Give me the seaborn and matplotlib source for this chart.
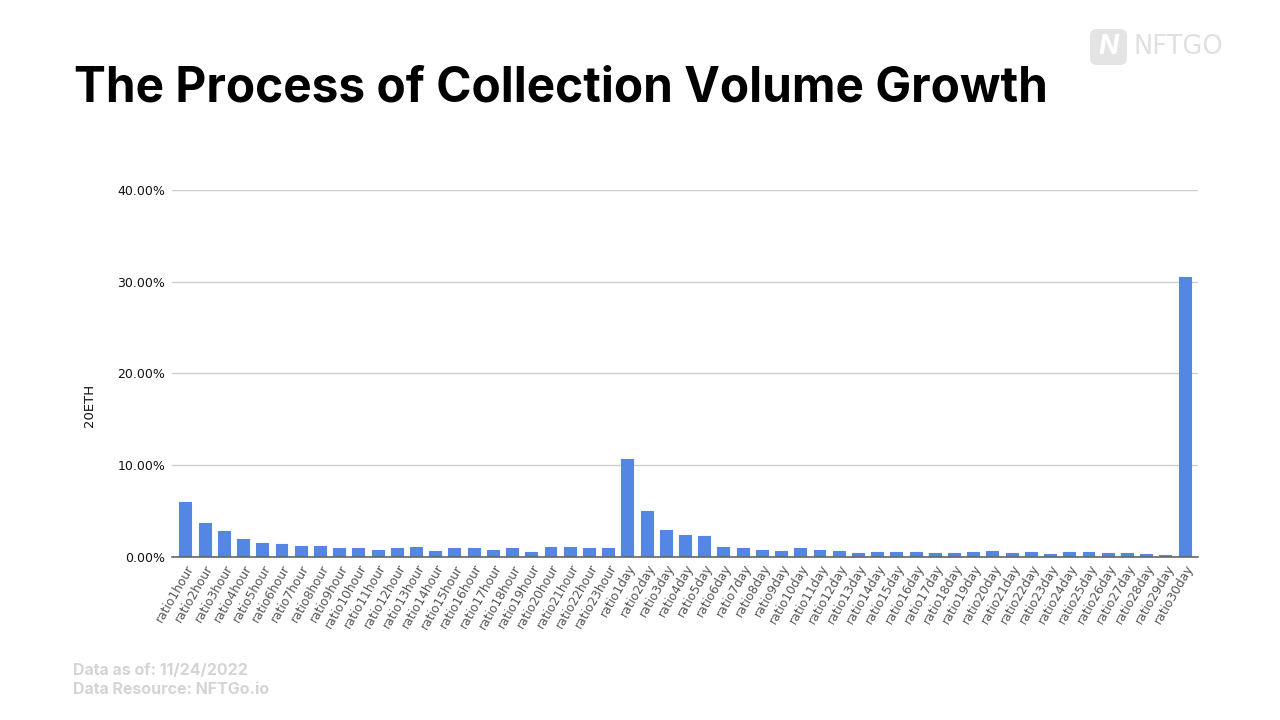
import matplotlib
matplotlib.use('Agg')
import matplotlib.pyplot as plt
from matplotlib.patches import FancyBboxPatch
from matplotlib.ticker import FuncFormatter
from matplotlib.transforms import IdentityTransform
import pandas as pd
import seaborn as sns

# --- Data ---
labels_hour = ['ratio%dhour' % i for i in range(1, 24)]
labels_day = ['ratio%dday' % i for i in range(1, 31)]
values_hour = [6.0, 3.7, 2.8, 1.9, 1.5, 1.4, 1.1, 1.2, 0.9, 0.9, 0.75, 0.9,
               1.0, 0.6, 0.9, 0.9, 0.75, 0.9, 0.5, 1.0, 1.0, 0.9, 0.9]
values_day = [10.6, 5.0, 2.9, 2.4, 2.2, 1.0, 0.9, 0.75, 0.6, 0.9, 0.75, 0.6,
              0.35, 0.45, 0.45, 0.45, 0.35, 0.35, 0.45, 0.6, 0.35, 0.45, 0.25,
              0.45, 0.45, 0.35, 0.35, 0.25, 0.15, 30.5]
y_ticks = [0, 10, 20, 30, 40]

df = pd.DataFrame({'ratio': labels_hour + labels_day, 'volume': values_hour + values_day})

sns.set_theme(style='white')
plt.rcParams['font.family'] = ['DejaVu Sans']

fig = plt.figure(figsize=(12.8, 7.2), dpi=100, facecolor='white')
ax = fig.add_axes([172 / 1280, 1 - 556.5 / 720, (1198 - 172) / 1280, (556.5 - 190) / 720])

# --- Bars ---
sns.barplot(data=df, x='ratio', y='volume', color='#5486e3', saturation=1, width=0.62, ax=ax)
for bar in ax.patches:
    bar.set_edgecolor('#5486e3')
    bar.set_linewidth(0.8)
    bar.set_joinstyle('round')

# --- Axes ---
ax.set_xlim(-0.7, 52.7)
ax.set_ylim(0, 40)
ax.set_yticks(y_ticks)
ax.yaxis.set_major_formatter(FuncFormatter(lambda v, _: '%.2f%%' % v))
ax.grid(axis='y', color='#cccccc', linewidth=1)
ax.set_axisbelow(True)
sns.despine(ax=ax, left=True)
ax.spines['bottom'].set_color('#666666')
ax.spines['bottom'].set_linewidth(1.2)
ax.tick_params(axis='y', length=0, pad=5, labelsize=9, labelcolor='#111111')
ax.tick_params(axis='x', length=0, pad=4, labelsize=8.8, labelcolor='#555555')
plt.setp(ax.get_xticklabels(), rotation=60, ha='right', rotation_mode='anchor')
ax.set_xlabel('')
ax.set_ylabel('')

fig.text(90 / 1280, 1 - 405 / 720, '20ETH', rotation=90, ha='center', va='center',
         fontsize=9.5, color='#111111')

# --- Title, footer, logo ---
fig.text(74 / 1280, 1 - 101.5 / 720, 'The Process of Collection Volume Growth', family='Inter',
         fontweight='bold', fontsize=34.4, color='black', va='baseline')
fig.text(73 / 1280, 1 - 670.5 / 720, 'Data as of: 11/24/2022', family='Inter', fontweight='bold',
         fontsize=11.5, color='#d4d4d4', va='center')
fig.text(73 / 1280, 1 - 690 / 720, 'Data Resource: NFTGo.io', family='Inter', fontweight='bold',
         fontsize=11.5, color='#d4d4d4', va='center')

fig.patches.append(FancyBboxPatch((1090, 720 - 65), 37, 36, boxstyle='round,pad=0,rounding_size=7',
                                  transform=IdentityTransform(), facecolor='#e4e4e4',
                                  edgecolor='none', figure=fig))
fig.text(1108.5 / 1280, 1 - 47 / 720, 'N', family='Inter', fontweight='bold', style='italic',
         fontsize=19, color='white', ha='center', va='center')
fig.text(1133 / 1280, 1 - 47 / 720, 'NFTGO', fontsize=18.5, color='#e0e0e0', va='center')

fig.savefig('out.png', dpi=100)
